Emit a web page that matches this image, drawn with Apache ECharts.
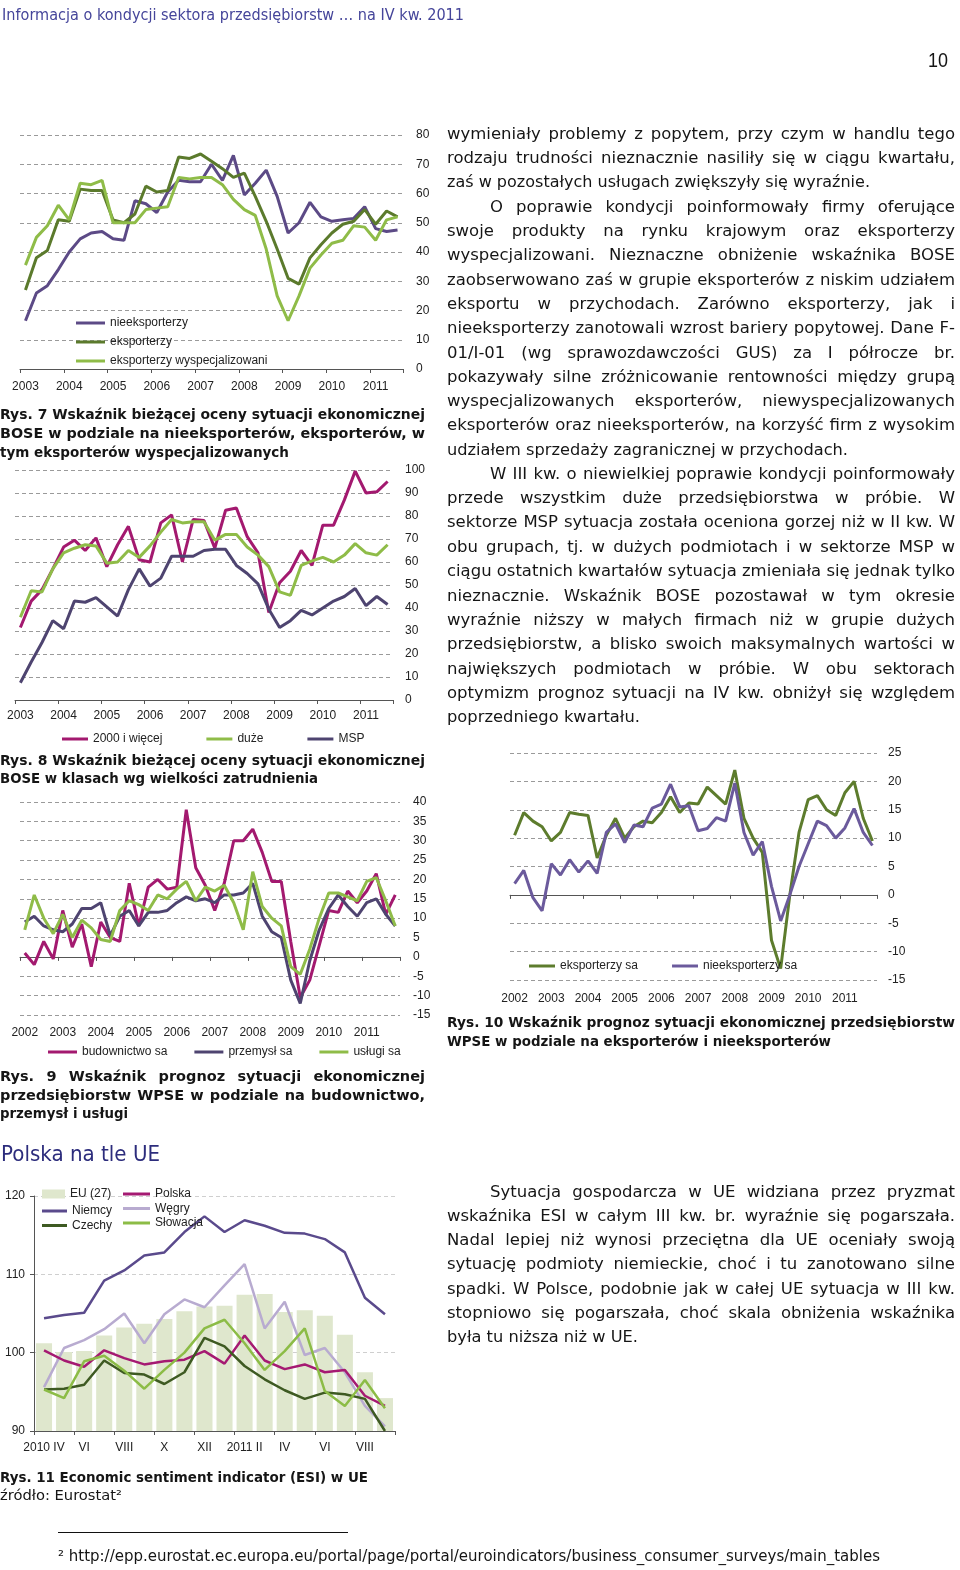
<!DOCTYPE html>
<html>
<head>
<meta charset="utf-8">
<script src="https://cdn.jsdelivr.net/npm/echarts@6/dist/echarts.min.js"></script>
<style>
  html, body { margin: 0; padding: 0; background: #fff; }
  #page { position: relative; width: 960px; height: 1570px; overflow: hidden; }
  #chart { position: absolute; left: 0; top: 0; width: 960px; height: 1570px; }
  .ln { position: absolute; white-space: nowrap; height: 22px; line-height: 22px; z-index: 2; color: #151515; }
  .ln span { display: inline-block; transform-origin: 0 50%; }
  .body { font: 16.5px 'DejaVu Sans', sans-serif; }
  .cap { font: bold 14.5px 'DejaVu Sans', sans-serif; }
  .capc { font: bold 14.5px 'DejaVu Sans Condensed', 'DejaVu Sans', sans-serif; }
  .capn { font: 14.5px 'DejaVu Sans Condensed', 'DejaVu Sans', sans-serif; }
  .hdr { font: 15px 'DejaVu Sans Condensed', 'DejaVu Sans', sans-serif; color: #45459a; }
  .h2 { font: 21px 'DejaVu Sans', sans-serif; color: #2c2c7c; }
  .pg { font: 20px 'Liberation Sans', Arial, sans-serif; }
  .fn { font: 15px 'DejaVu Sans Condensed', 'DejaVu Sans', sans-serif; }
  #rule { position: absolute; left: 58px; top: 1532px; width: 290px; height: 1px; background: #111; }
</style>
</head>
<body>
<div id="page">
  <div id="chart"></div>
  <div id="rule"></div>
</div>
<script>
// Rys. 7 - BOSE, eksporterzy / nieeksporterzy (2003 Q1 - 2011 Q3)
const years7 = ['2003', '2004', '2005', '2006', '2007', '2008', '2009', '2010', '2011']
const nieeksporterzy = [16.5, 26, 28.5, 34, 40, 44.5, 46.5, 47, 44.5, 44, 57.5, 56.5, 53.5, 60.5, 64.5, 64, 64, 70, 64.5, 73, 59.5, 63.5, 68, 59, 46.5, 50, 57, 52, 50.5, 51, 51.5, 55.5, 48, 47, 47.5]
const eksporterzy = [27, 38, 40.5, 51, 50.5, 61.5, 61, 61, 51, 50, 53, 62.5, 60.5, 61, 72.5, 72, 73.5, 71, 68.5, 65.5, 67, 59, 50.5, 41, 31, 29, 38, 42.5, 46.5, 49.5, 50.5, 54.5, 49.5, 54, 52]
const eksporterzyWysp = [35.5, 45, 49, 56, 51, 63.5, 63, 64.5, 50, 50, 50, 54.5, 55, 55.5, 65.5, 65, 65.5, 65.5, 63, 58, 54.5, 52.5, 41, 25, 16.5, 25, 34.5, 39, 43, 44, 49, 48.5, 44, 51, 52]

// Rys. 8 - BOSE wg wielkości zatrudnienia
const ponad2000 = [31.5, 43, 48, 57, 66.5, 69.5, 65, 70.5, 58, 67.5, 75.5, 61, 60, 77, 80.5, 60, 78.5, 78, 66, 82.5, 83.5, 71, 64, 38, 51, 56, 65, 58.5, 76, 76, 87, 99.5, 90, 90.5, 95]
const duze = [36, 47.5, 47, 57, 64, 66, 67.5, 67, 59.5, 60, 65, 62, 67, 73, 78.5, 77, 77.5, 77.5, 69.5, 72, 72, 66.5, 63, 58, 47, 45.5, 58.5, 60.5, 62, 60, 63, 68, 64, 63, 67.5]
const msp = [7.5, 16.5, 25, 34.5, 31, 43, 42.5, 44.5, 40.5, 36.5, 48, 57, 49.5, 53, 62.5, 62.5, 62.5, 65, 65.5, 65.5, 58.5, 55, 50.5, 39.5, 31.5, 34.5, 39, 37, 40, 43, 45, 48.5, 41, 45, 41.5]

// Rys. 9 / Rys. 10 - WPSE (2002 Q1 - 2011 Q4)
const years9 = ['2002', '2003', '2004', '2005', '2006', '2007', '2008', '2009', '2010', '2011']
const budownictwo = [1, -2, 4, -0.5, 12, 2.5, 8.5, -2.5, 9, 5, 4, 19, 8, 18, 20, 17.5, 18, 38, 23, 18.5, 12, 19, 30, 30, 33, 27, 19.5, 19.5, 4, -10.5, -6, 3, 12, 11.5, 17, 14, 17, 21.5, 11, 16]
const przemysl = [9, 10.5, 8, 7, 6.5, 8.5, 12.5, 12.5, 14, 5.5, 10.5, 12, 8, 11.5, 11.5, 12, 14, 15.5, 14.5, 15, 14, 16, 16, 16.5, 19, 10.5, 6.5, 5, -6, -12, -1, 7, 12.5, 16, 13, 10.5, 14, 15, 11, 8]
const uslugi = [7, 16, 10, 6, 11, 5, 9.5, 7.5, 4.5, 4, 12, 14.5, 13.5, 12, 16, 15, 17.5, 19.5, 14.5, 18, 17, 18.5, 14, 7, 22, 13, 10, 8, -2.5, -4.5, 2, 10, 16.5, 16.5, 15.5, 14.5, 19.5, 20.5, 14.5, 8]
const eksporterzySa = [10.5, 14.5, 13, 12, 9.5, 11, 14.5, 14.2, 14, 6.5, 10.5, 13.5, 10, 12, 13, 12.7, 14.5, 17.3, 14.5, 16.2, 16, 19, 17.5, 16, 22, 13.5, 10, 7.5, -8, -13, 0, 11, 16.8, 17.5, 15, 14, 18, 20, 13.5, 9.5]
const nieeksporterzySa = [2, 4.3, -0.5, -2.8, 5.5, 3.5, 6.2, 4, 6, 3.8, 11, 12.5, 9.2, 12.3, 12, 15.3, 16, 19.5, 15.5, 15.7, 11.3, 11.7, 13.6, 13, 19.7, 11, 7, 9.4, 1.5, -4.6, 0, 5, 9, 13, 12.2, 10, 11.8, 15.2, 11, 8.7]

// Rys. 11 - ESI w UE (IV 2010 - IX 2011)
const months11 = ['2010 IV', 'V', 'VI', 'VII', 'VIII', 'IX', 'X', 'XI', 'XII', 'I', '2011 II', 'III', 'IV', 'V', 'VI', 'VII', 'VIII', 'IX']
const eu27 = [101.2, 100.1, 100.2, 102.2, 103.2, 103.7, 104.3, 105.3, 105.9, 106, 107.4, 107.5, 105.2, 105.4, 104.7, 102.3, 97.5, 94.2]
const niemcy = [104.4, 104.8, 105.1, 109.2, 110.5, 112.4, 112.8, 115.4, 117.4, 115.4, 116.9, 116.2, 115.3, 115.2, 114.5, 112.8, 107, 104.9]
const wegry = [95.6, 100.6, 101.6, 103, 105, 101.2, 104.9, 106.8, 105.8, 108.6, 111.3, 103.1, 106.5, 99.7, 100.6, 97.5, 93.2, 90.6]
const polska = [100.3, 99, 98.2, 100.3, 99.3, 98.5, 98.9, 99.1, 100.2, 98.6, 102.2, 99, 97.9, 98.5, 97.5, 97.8, 94.5, 93.2]
const czechy = [95.3, 95.4, 95.9, 99, 97.4, 97.2, 96, 97.5, 101.9, 100.8, 98.3, 96.6, 95.2, 94.1, 94.9, 94.7, 94.1, 90]
const slowacja = [95.3, 94.2, 98.9, 99.6, 97.7, 95.4, 97.8, 100, 103.1, 104.2, 101.2, 97.8, 100.2, 103.1, 95.1, 93.2, 96.5, 92.9]

function quarterCats(years, n) {
  const out = []
  years.forEach(y => ['Q1', 'Q2', 'Q3', 'Q4'].forEach(q => out.push(y + ' ' + q)))
  return out.slice(0, n)
}
const cats7 = quarterCats(years7, nieeksporterzy.length)
const cats9 = quarterCats(years9, budownictwo.length)

const FONT = "'Liberation Sans', Arial, sans-serif"
const AX = '#555'
const dash = { show: true, lineStyle: { color: '#9a9a9a', type: [4, 3], width: 1 } }
const legendText = { fontSize: 12, color: '#222' }

function yearLabel(v) {
  return v.split(' ')[0]
}

function catAxis(gridIndex, data, extra) {
  return Object.assign({
    type: 'category', gridIndex, data, boundaryGap: true,
    axisLine: { show: true, onZero: false, lineStyle: { color: AX, width: 1 } },
    axisTick: { show: true, interval: 3, length: 4, lineStyle: { color: AX } },
    axisLabel: { interval: 3, formatter: yearLabel, color: '#222', fontSize: 12, margin: 12 },
    splitLine: { show: false },
  }, extra || {})
}

function valAxis(gridIndex, min, max, interval, extra) {
  return Object.assign({
    type: 'value', gridIndex, min, max, interval, position: 'right',
    axisLine: { show: false }, axisTick: { show: false },
    axisLabel: { color: '#222', fontSize: 12, margin: 13 },
    splitLine: dash,
  }, extra || {})
}

function line(name, data, color, axis, width) {
  return {
    type: 'line', name, data, xAxisIndex: axis[0], yAxisIndex: axis[1],
    symbol: 'none', smooth: false,
    lineStyle: { color, width: width || 3 }, itemStyle: { color },
    z: 3,
  }
}

// legend has 5px padding, positions below are already shifted for it
function lineLegend(names, pos) {
  return Object.assign({
    data: names, icon: 'rect', itemWidth: 27, itemHeight: 3, itemGap: 30, textStyle: legendText,
  }, pos)
}

const PURPLE = '#5c4a86'
const DKGREEN = '#5b7a2c'
const LTGREEN = '#8fbc48'
const MAGENTA = '#a3196f'
const MSPPURPLE = '#4e4470'

const chart = echarts.init(document.getElementById('chart'), null, { renderer: 'canvas' })
chart.setOption({
  animation: false,
  backgroundColor: '#fff',
  textStyle: { fontFamily: FONT },
  grid: [
    { left: 20, top: 135, width: 383, height: 234 },
    { left: 15, top: 470, width: 378, height: 230 },
    { left: 20, top: 802, width: 380, height: 213 },
    { left: 510, top: 753, width: 367, height: 227 },
    { left: 34, top: 1196, width: 361, height: 235 },
  ],
  xAxis: [
    catAxis(0, cats7),
    catAxis(1, cats7, { axisLabel: { interval: 3, formatter: yearLabel, color: '#222', fontSize: 12, margin: 10 } }),
    // labels at the bottom, line on zero (second axis)
    catAxis(2, cats9, { axisLine: { show: false, onZero: false }, axisTick: { show: false } }),
    catAxis(2, cats9, { position: 'top', axisLine: { show: true, onZero: true, lineStyle: { color: AX } },
      axisTick: { show: true, interval: 3, length: 4, inside: true, lineStyle: { color: AX } }, axisLabel: { show: false } }),
    catAxis(3, cats9, { axisLine: { show: false, onZero: false }, axisTick: { show: false },
      axisLabel: { interval: 3, formatter: yearLabel, color: '#222', fontSize: 12, margin: 13 } }),
    catAxis(3, cats9, { position: 'top', axisLine: { show: true, onZero: true, lineStyle: { color: AX } },
      axisTick: { show: true, interval: 3, length: 4, inside: true, lineStyle: { color: AX } }, axisLabel: { show: false } }),
    {
      type: 'category', gridIndex: 4, data: months11, boundaryGap: true,
      axisLine: { show: true, lineStyle: { color: AX } },
      axisTick: { show: true, interval: 1, length: 4, lineStyle: { color: AX } },
      axisLabel: { interval: 1, color: '#222', fontSize: 12, margin: 11 },
    },
  ],
  yAxis: [
    valAxis(0, 0, 80, 10),
    valAxis(1, 0, 100, 10, { axisLabel: { color: '#222', fontSize: 12, margin: 12 } }),
    valAxis(2, -15, 40, 5),
    valAxis(3, -15, 25, 5, { axisLabel: { color: '#222', fontSize: 12, margin: 11 } }),
    {
      type: 'value', gridIndex: 4, min: 90, max: 120, interval: 10, position: 'left',
      axisLine: { show: true, lineStyle: { color: AX } },
      axisTick: { show: true, length: 4, lineStyle: { color: AX } },
      axisLabel: { color: '#222', fontSize: 12, margin: 9 },
      splitLine: { show: true, lineStyle: { color: '#cfcfcf', type: [4, 3] } },
    },
  ],
  legend: [
    lineLegend(['nieeksporterzy', 'eksporterzy', 'eksporterzy wyspecjalizowani'],
      { orient: 'vertical', left: 71, top: 312, itemWidth: 29, itemGap: 7 }),
    lineLegend(['2000 i więcej', 'duże', 'MSP'], { left: 57, top: 728, itemWidth: 26, itemGap: 44 }),
    lineLegend(['budownictwo sa', 'przemysł sa', 'usługi sa'], { left: 43, top: 1041, itemWidth: 29, itemGap: 27 }),
    lineLegend(['eksporterzy sa', 'nieeksporterzy sa'], { left: 524, top: 955, itemWidth: 26, itemGap: 34 }),
    { data: ['EU (27)'], icon: 'rect', left: 37, top: 1183, itemWidth: 23, itemHeight: 9, textStyle: legendText },
    lineLegend(['Niemcy', 'Czechy'], { orient: 'vertical', left: 37, top: 1200, itemWidth: 25, itemGap: 2.5 }),
    lineLegend(['Polska', 'Węgry', 'Słowacja'], { orient: 'vertical', left: 118, top: 1183, itemWidth: 27, itemGap: 2.5 }),
  ],
  series: [
    line('nieeksporterzy', nieeksporterzy, PURPLE, [0, 0]),
    line('eksporterzy', eksporterzy, DKGREEN, [0, 0]),
    line('eksporterzy wyspecjalizowani', eksporterzyWysp, LTGREEN, [0, 0]),

    line('2000 i więcej', ponad2000, MAGENTA, [1, 1]),
    line('duże', duze, LTGREEN, [1, 1]),
    line('MSP', msp, MSPPURPLE, [1, 1]),

    line('budownictwo sa', budownictwo, MAGENTA, [2, 2]),
    line('przemysł sa', przemysl, MSPPURPLE, [2, 2]),
    line('usługi sa', uslugi, LTGREEN, [2, 2]),

    line('eksporterzy sa', eksporterzySa, '#5d7c2d', [4, 3]),
    line('nieeksporterzy sa', nieeksporterzySa, '#6b5a9c', [4, 3]),

    { type: 'bar', name: 'EU (27)', data: eu27, xAxisIndex: 6, yAxisIndex: 4, barCategoryGap: '20%',
      itemStyle: { color: '#dfe7cd' }, z: 1 },
    line('Niemcy', niemcy, '#5a4a8c', [6, 4], 2.5),
    line('Węgry', wegry, '#b8abd0', [6, 4], 2.5),
    line('Polska', polska, '#a51a72', [6, 4], 2.5),
    line('Czechy', czechy, '#3e5a22', [6, 4], 2.5),
    line('Słowacja', slowacja, '#8cbc46', [6, 4], 2.5),
  ],
})

// page text: [x, centre y, width, text, mode, class]
// mode: j = justified line, f = fitted to width
const texts = [
  [2, 14, 462, 'Informacja o kondycji sektora przedsiębiorstw … na IV kw. 2011', 'f', 'hdr'],
  [928, 57, 20, '10', 'f', 'pg'],

  [447, 132, 508, 'wymieniały problemy z popytem, przy czym w handlu tego', 'j', 'body'],
  [447, 156, 508, 'rodzaju trudności nieznacznie nasiliły się w ciągu kwartału,', 'j', 'body'],
  [447, 180, 423, 'zaś w pozostałych usługach zwiększyły się wyraźnie.', 'f', 'body'],
  [490, 205, 465, 'O poprawie kondycji poinformowały firmy oferujące', 'j', 'body'],
  [447, 229, 508, 'swoje produkty na rynku krajowym oraz eksporterzy', 'j', 'body'],
  [447, 253, 508, 'wyspecjalizowani. Nieznaczne obniżenie wskaźnika BOSE', 'j', 'body'],
  [447, 278, 508, 'zaobserwowano zaś w grupie eksporterów z niskim udziałem', 'j', 'body'],
  [447, 302, 508, 'eksportu w przychodach. Zarówno eksporterzy, jak i', 'j', 'body'],
  [447, 326, 508, 'nieeksporterzy zanotowali wzrost bariery popytowej. Dane F-', 'j', 'body'],
  [447, 351, 508, '01/I-01 (wg sprawozdawczości GUS) za I półrocze br.', 'j', 'body'],
  [447, 375, 508, 'pokazywały silne zróżnicowanie rentowności między grupą', 'j', 'body'],
  [447, 399, 508, 'wyspecjalizowanych eksporterów, niewyspecjalizowanych', 'j', 'body'],
  [447, 423, 508, 'eksporterów oraz nieeksporterów, na korzyść firm z wysokim', 'j', 'body'],
  [447, 448, 401, 'udziałem sprzedaży zagranicznej w przychodach.', 'f', 'body'],
  [490, 472, 465, 'W III kw. o niewielkiej poprawie kondycji poinformowały', 'j', 'body'],
  [447, 496, 508, 'przede wszystkim duże przedsiębiorstwa w próbie. W', 'j', 'body'],
  [447, 520, 508, 'sektorze MSP sytuacja została oceniona gorzej niż w II kw. W', 'j', 'body'],
  [447, 545, 508, 'obu grupach, tj. w dużych podmiotach i w sektorze MSP w', 'j', 'body'],
  [447, 569, 508, 'ciągu ostatnich kwartałów sytuacja zmieniała się jednak tylko', 'j', 'body'],
  [447, 594, 508, 'nieznacznie. Wskaźnik BOSE pozostawał w tym okresie', 'j', 'body'],
  [447, 618, 508, 'wyraźnie niższy w małych firmach niż w grupie dużych', 'j', 'body'],
  [447, 642, 508, 'przedsiębiorstw, a blisko swoich maksymalnych wartości w', 'j', 'body'],
  [447, 667, 508, 'największych podmiotach w próbie. W obu sektorach', 'j', 'body'],
  [447, 691, 508, 'optymizm prognoz sytuacji na IV kw. obniżył się względem', 'j', 'body'],
  [447, 715, 193, 'poprzedniego kwartału.', 'f', 'body'],

  [0, 414, 425, 'Rys. 7 Wskaźnik bieżącej oceny sytuacji ekonomicznej', 'j', 'cap'],
  [0, 433, 425, 'BOSE w podziale na nieeksporterów, eksporterów, w', 'j', 'cap'],
  [0, 452, 289, 'tym eksporterów wyspecjalizowanych', 'f', 'cap'],
  [0, 760, 425, 'Rys. 8 Wskaźnik bieżącej oceny sytuacji ekonomicznej', 'j', 'cap'],
  [0, 778, 318, 'BOSE w klasach wg wielkości zatrudnienia', 'f', 'cap'],
  [447, 1022, 508, 'Rys. 10 Wskaźnik prognoz sytuacji ekonomicznej przedsiębiorstw', 'j', 'cap'],
  [447, 1041, 384, 'WPSE w podziale na eksporterów i nieeksporterów', 'f', 'cap'],
  [0, 1076, 425, 'Rys. 9 Wskaźnik prognoz sytuacji ekonomicznej', 'j', 'cap'],
  [0, 1095, 425, 'przedsiębiorstw WPSE w podziale na budownictwo,', 'j', 'cap'],
  [0, 1113, 128, 'przemysł i usługi', 'f', 'cap'],

  [1, 1150, 159, 'Polska na tle UE', 'f', 'h2'],

  [490, 1190, 465, 'Sytuacja gospodarcza w UE widziana przez pryzmat', 'j', 'body'],
  [447, 1214, 508, 'wskaźnika ESI w całym III kw. br. wyraźnie się pogarszała.', 'j', 'body'],
  [447, 1238, 508, 'Nadal lepiej niż wynosi przeciętna dla UE oceniały swoją', 'j', 'body'],
  [447, 1262, 508, 'sytuację podmioty niemieckie, choć i tu zanotowano silne', 'j', 'body'],
  [447, 1287, 508, 'spadki. W Polsce, podobnie jak w całej UE sytuacja w III kw.', 'j', 'body'],
  [447, 1311, 508, 'stopniowo się pogarszała, choć skala obniżenia wskaźnika', 'j', 'body'],
  [447, 1335, 191, 'była tu niższa niż w UE.', 'f', 'body'],

  [0, 1477, 368, 'Rys. 11 Economic sentiment indicator (ESI) w UE', 'f', 'capc'],
  [0, 1495, 122, 'źródło: Eurostat²', 'f', 'capn'],
  [58, 1555, 822, '² http://epp.eurostat.ec.europa.eu/portal/page/portal/euroindicators/business_consumer_surveys/main_tables', 'f', 'fn'],
]

const page = document.getElementById('page')
texts.forEach(([x, y, w, txt, mode, cls]) => {
  const div = document.createElement('div')
  div.className = 'ln ' + cls
  div.style.left = x + 'px'
  div.style.top = (y - 8) + 'px'
  const span = document.createElement('span')
  span.textContent = txt
  div.appendChild(span)
  page.appendChild(div)
  const nat = span.getBoundingClientRect().width
  if (mode === 'j' && nat < w) {
    const gaps = (txt.match(/ /g) || []).length
    if (gaps) span.style.wordSpacing = ((w - nat) / gaps) + 'px'
  } else {
    span.style.transform = 'scaleX(' + (w / nat) + ')'
  }
})
</script>
</body>
</html>
